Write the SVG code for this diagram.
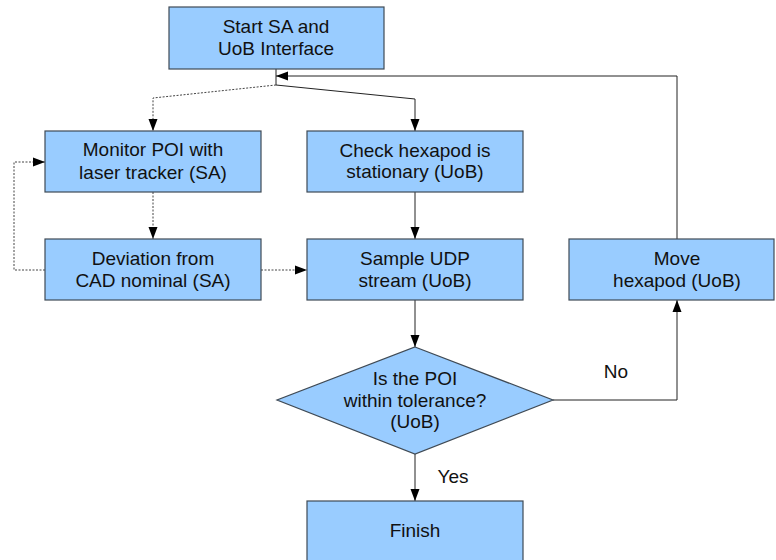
<svg xmlns="http://www.w3.org/2000/svg" width="776" height="560" viewBox="0 0 776 560">
<defs>
<marker id="ah" viewBox="0 0 12 10" refX="12" refY="5" markerWidth="12" markerHeight="10" markerUnits="userSpaceOnUse" orient="auto">
<path d="M0,0.5 L12,5 L0,9.5 Z" fill="#000"/>
</marker>
</defs>
<style>
.box{fill:#99ccff;stroke:#3f4a55;stroke-width:1.2}
.t{font-family:"Liberation Sans",Arial,sans-serif;font-size:19px;fill:#111;text-anchor:middle}
.s{fill:none;stroke:#222;stroke-width:1}
.d{fill:none;stroke:#444;stroke-width:1;stroke-dasharray:2,1.5}
</style>
<rect width="776" height="560" fill="#fff"/>
<g id="connectors">
<polyline class="s" points="276,69 276,85"/>
<polyline class="d" points="276,85 153,98 153,131" marker-end="url(#ah)"/>
<polyline class="s" points="276,85 415,99 415,131" marker-end="url(#ah)"/>
<polyline class="d" points="153,192 153,239" marker-end="url(#ah)"/>
<polyline class="d" points="45,270 14,270 14,162 45,162" marker-end="url(#ah)"/>
<polyline class="d" points="261,270 307,270" marker-end="url(#ah)"/>
<polyline class="s" points="415,192 415,239" marker-end="url(#ah)"/>
<polyline class="s" points="415,300 415,347" marker-end="url(#ah)"/>
<polyline class="s" points="553,400 677,400 677,300" marker-end="url(#ah)"/>
<polyline class="s" points="677,239 677,76 276,76" marker-end="url(#ah)"/>
<polyline class="s" points="415,454 415,501" marker-end="url(#ah)"/>
<text class="t" x="616" y="378">No</text>
<text class="t" x="453" y="483">Yes</text>
</g>
<g id="start">
<rect class="box" x="169" y="7" width="215" height="62"/>
<text class="t" x="276" y="33">Start SA and</text>
<text class="t" x="276" y="55">UoB Interface</text>
</g>
<g id="monitor">
<rect class="box" x="45" y="131" width="216" height="61"/>
<text class="t" x="153" y="156">Monitor POI with</text>
<text class="t" x="153" y="179">laser tracker (SA)</text>
</g>
<g id="check">
<rect class="box" x="307" y="131" width="216" height="61"/>
<text class="t" x="415" y="157">Check hexapod is</text>
<text class="t" x="415" y="178">stationary (UoB)</text>
</g>
<g id="deviation">
<rect class="box" x="45" y="239" width="216" height="61"/>
<text class="t" x="153" y="265">Deviation from</text>
<text class="t" x="153" y="287">CAD nominal (SA)</text>
</g>
<g id="sample">
<rect class="box" x="307" y="239" width="216" height="61"/>
<text class="t" x="415" y="265">Sample UDP</text>
<text class="t" x="415" y="287">stream (UoB)</text>
</g>
<g id="move">
<rect class="box" x="569" y="239" width="205" height="61"/>
<text class="t" x="677" y="265">Move</text>
<text class="t" x="677" y="287">hexapod (UoB)</text>
</g>
<g id="decision">
<polygon class="box" points="415,347 553,400 415,454 277,400"/>
<text class="t" x="415" y="385">Is the POI</text>
<text class="t" x="415" y="407">within tolerance?</text>
<text class="t" x="415" y="428">(UoB)</text>
</g>
<g id="finish">
<rect class="box" x="307" y="501" width="216" height="62"/>
<text class="t" x="415" y="537">Finish</text>
</g>
</svg>
